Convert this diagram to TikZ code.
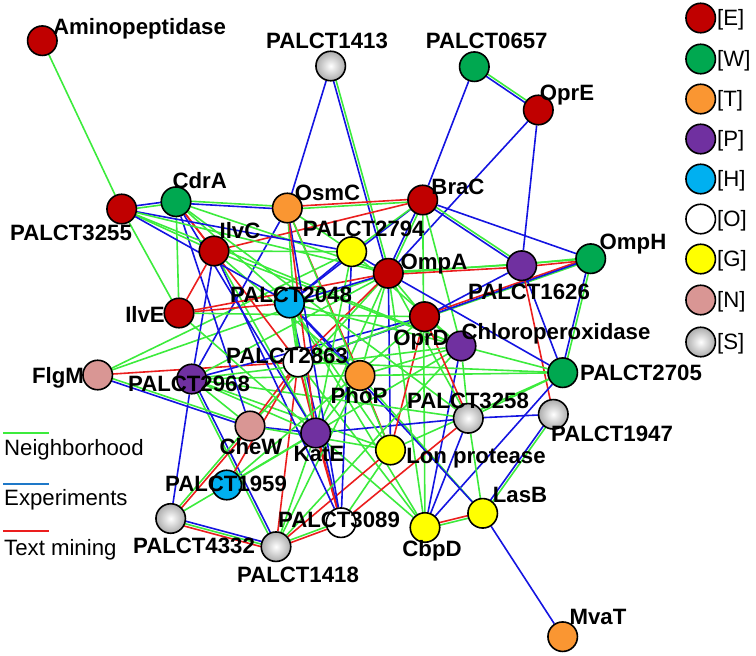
\documentclass[tikz,border=0pt]{standalone}
\usepackage{fontspec}
\setmainfont{Liberation Sans}
\usetikzlibrary{calc}
\pgfdeclarelayer{edgelayer}
\pgfsetlayers{edgelayer,main}
\definecolor{cE}{RGB}{192,0,0}
\definecolor{cW}{RGB}{0,168,80}
\definecolor{cT}{RGB}{250,150,50}
\definecolor{cP}{RGB}{112,48,160}
\definecolor{cH}{RGB}{0,176,240}
\definecolor{cG}{RGB}{255,255,0}
\definecolor{cN}{RGB}{217,150,148}
\definecolor{lG}{RGB}{60,235,60}
\definecolor{lB}{RGB}{20,20,225}
\definecolor{lR}{RGB}{235,30,30}
\definecolor{legB}{RGB}{30,120,200}
\newcommand\edgG[2]{\draw[eg] (#1) -- (#2);}
\newcommand\edgB[2]{\draw[eb] (#1) -- (#2);}
\newcommand\edgR[2]{\draw[er] (#1) -- (#2);}
\newcommand\edgPair[4]{%
  \draw[#1] ($(#3)!1.3pt!90:(#4)$) -- ($(#4)!1.3pt!-90:(#3)$);%
  \draw[#2] ($(#3)!1.3pt!-90:(#4)$) -- ($(#4)!1.3pt!90:(#3)$);}
\tikzset{
  eg/.style={draw=lG,line width=1.6pt},
  eb/.style={draw=lB,line width=1.6pt},
  er/.style={draw=lR,line width=1.6pt},
  nd/.style={circle,draw=black,line width=1.6pt,minimum size=29.5pt,inner sep=0pt},
  nE/.style={nd,fill=cE}, nW/.style={nd,fill=cW}, nT/.style={nd,fill=cT},
  nP/.style={nd,fill=cP}, nH/.style={nd,fill=cH}, nO/.style={nd,fill=white},
  nG/.style={nd,fill=cG}, nN/.style={nd,fill=cN},
  nS/.style={nd,inner color=white,outer color=gray!65},
  lbl/.style={font=\fontsize{22.2}{24}\selectfont\bfseries,inner sep=0pt,anchor=base},
  leg/.style={font=\fontsize{22.2}{24}\selectfont,inner sep=0pt,anchor=base west},
}
\begin{document}
\begin{tikzpicture}[x=1pt,y=-1pt]
\useasboundingbox (0,0) rectangle (756,656);
% nodes
\node[nE] (am) at (42.3,40.7) {};
\node[nS] (p1413) at (330.7,66) {};
\node[nW] (p0657) at (474.3,66.7) {};
\node[nE] (opre) at (538.3,110) {};
\node[nE] (p3255) at (121.7,209) {};
\node[nW] (cdra) at (176,201.7) {};
\node[nT] (osmc) at (287.3,208) {};
\node[nE] (ilvc) at (214,251) {};
\node[nG] (p2794) at (351.7,251.7) {};
\node[nE] (brac) at (422.7,200) {};
\node[nE] (ompa) at (388.3,273.3) {};
\node[nP] (p1626) at (521.7,265.7) {};
\node[nW] (omph) at (590.7,258.7) {};
\node[nE] (ilve) at (179,313) {};
\node[nH] (p2048) at (289.5,303) {};
\node[nE] (oprd) at (424.5,316.7) {};
\node[nP] (chlo) at (461,346) {};
\node[nO] (p2863) at (298,362) {};
\node[nN] (flgm) at (97.7,375) {};
\node[nP] (p2968) at (191.7,379) {};
\node[nT] (phop) at (360,375.5) {};
\node[nW] (p2705) at (562.7,372.7) {};
\node[nS] (p3258) at (468.3,418.3) {};
\node[nS] (p1947) at (553.3,414.3) {};
\node[nN] (chew) at (250,426) {};
\node[nP] (kate) at (315.7,433) {};
\node[nG] (lon) at (390.5,450) {};
\node[nH] (p1959) at (226.7,485) {};
\node[nG] (lasb) at (482.7,513.3) {};
\node[nO] (p3089) at (341,522.7) {};
\node[nG] (cbpd) at (425,527.5) {};
\node[nS] (p4332) at (170.7,518.5) {};
\node[nS] (p1418) at (276,546.7) {};
\node[nT] (mvat) at (562.7,636.7) {};
% edges
\begin{pgfonlayer}{edgelayer}
\edgG{am}{p3255}
\edgB{p1413}{osmc}
\edgPair{eg}{eb}{p1413}{ompa}
\edgB{p0657}{brac}
\edgPair{eg}{eb}{p0657}{opre}
\edgB{opre}{ompa}
\edgB{opre}{p1626}
\edgB{brac}{omph}
\edgPair{eg}{eb}{brac}{p1626}
\edgPair{eg}{er}{brac}{osmc}
\edgPair{eg}{eb}{brac}{ompa}
\edgB{brac}{p2048}
\edgG{brac}{chlo}
\edgG{brac}{cbpd}
\edgG{brac}{p2794}
\edgPair{eg}{er}{ompa}{p1626}
\edgPair{eg}{er}{p1626}{omph}
\edgG{ompa}{omph}
\edgPair{eg}{eb}{omph}{p2705}
\edgPair{eg}{er}{omph}{oprd}
\edgB{omph}{p2863}
\edgB{p1626}{oprd}
\edgB{p1626}{p2705}
\edgR{p1626}{p1947}
\edgB{ompa}{p2705}
\edgG{chlo}{p2705}
\edgG{p2705}{p3258}
\edgG{p2705}{lon}
\edgB{p2705}{cbpd}
\edgPair{eg}{eb}{p1947}{lasb}
\edgB{p1947}{p3258}
\edgB{lasb}{mvat}
\edgPair{eg}{er}{lasb}{cbpd}
\edgB{cbpd}{p3258}
\edgB{cbpd}{chlo}
\edgG{lasb}{p3258}
\edgG{lasb}{phop}
\edgB{lasb}{p2048}
\edgG{cbpd}{kate}
\edgG{cbpd}{p2863}
\edgG{cbpd}{ompa}
\edgG{cbpd}{p2048}
\edgB{p3258}{kate}
\edgB{chew}{kate}
\edgR{p3258}{p3089}
\edgR{lon}{oprd}
\edgR{lon}{phop}
\edgB{lon}{ompa}
\edgG{lon}{p2968}
\edgR{lon}{p1418}
\edgG{lon}{p3089}
\edgB{p3089}{p2048}
\edgR{p3089}{p2863}
\edgR{p3089}{kate}
\edgB{p3089}{p2794}
\edgR{p1418}{p2863}
\edgPair{eg}{er}{p1418}{p3089}
\edgG{p1418}{kate}
\edgPair{eg}{eb}{p1418}{p2968}
\edgPair{eg}{eb}{p1418}{p4332}
\draw[er] ($(p1418)!3.8pt!90:(p4332)$) -- ($(p4332)!3.8pt!-90:(p1418)$);
\edgG{p1418}{chlo}
\edgG{p1418}{phop}
\edgPair{eg}{er}{p4332}{chew}
\edgB{p4332}{p2968}
\edgG{p4332}{kate}
\edgPair{eg}{eb}{flgm}{chew}
\edgR{flgm}{p2863}
\edgG{flgm}{ompa}
\edgG{flgm}{p2794}
\edgB{p2968}{ilvc}
\edgB{p2968}{osmc}
\edgB{p2968}{oprd}
\edgG{p2968}{chew}
\edgG{p2968}{kate}
\edgG{p2968}{p3258}
\edgG{p2968}{phop}
\edgG{p2968}{ompa}
\edgR{chew}{p2863}
\edgG{chew}{ompa}
\edgB{chew}{cdra}
\edgG{chew}{lon}
\edgR{kate}{p2863}
\edgG{kate}{phop}
\edgG{kate}{ompa}
\edgR{p1959}{p2863}
\edgG{p1959}{chlo}
\edgR{p2863}{ompa}
\edgG{p2863}{p2048}
\edgG{p2863}{osmc}
\edgG{p2863}{oprd}
\edgG{p2863}{p2705}
\edgR{phop}{osmc}
\edgG{phop}{ompa}
\edgB{phop}{p2048}
\edgG{phop}{p2705}
\edgR{ilvc}{ilve}
\edgR{ilvc}{brac}
\edgG{ilvc}{p3255}
\edgG{ilvc}{p2794}
\edgG{ilvc}{phop}
\edgG{ilvc}{kate}
\edgG{ilvc}{chlo}
\edgB{ilvc}{p3089}
\edgR{ilve}{ompa}
\edgR{ilve}{p2048}
\edgG{ilve}{p3255}
\edgG{ilve}{cdra}
\edgG{ilve}{oprd}
\edgG{ilve}{kate}
\edgR{cdra}{ilvc}
\edgPair{eg}{eb}{cdra}{osmc}
\edgPair{eg}{eb}{cdra}{p3255}
\edgR{cdra}{p2863}
\edgB{cdra}{kate}
\edgG{cdra}{p2048}
\edgG{cdra}{ompa}
\edgG{cdra}{p3258}
\edgB{p3255}{p2794}
\edgB{p3255}{p2048}
\edgG{p3255}{chlo}
\edgG{p3255}{ompa}
\edgG{osmc}{p2794}
\edgB{osmc}{p3089}
\edgR{osmc}{kate}
\edgG{osmc}{lon}
\edgB{p2794}{ompa}
\edgB{p2794}{p2048}
\edgG{p2794}{kate}
\edgG{p2794}{chlo}
\edgB{p2048}{ompa}
\edgG{p2048}{kate}
\edgG{p2048}{chlo}
\edgG{p2048}{lon}
\edgG{ompa}{oprd}
\edgG{ompa}{p3258}
\edgR{oprd}{p3258}
\edgG{oprd}{chlo}
\edgG{oprd}{p1959}
\edgG{chlo}{p2968}
\edgG{chlo}{phop}
\edgG{chlo}{p3258}
\end{pgfonlayer}
% labels
\node[lbl] (t-am) at (139.5,34.7) {Aminopeptidase};
\node[lbl] (t-p1413) at (327,48.7) {PALCT1413};
\node[lbl] (t-p0657) at (486.7,48.7) {PALCT0657};
\node[lbl] (t-opre) at (567,100.2) {OprE};
\node[lbl] (t-p3255) at (71,240.7) {PALCT3255};
\node[lbl] (t-cdra) at (199.7,188.7) {CdrA};
\node[lbl] (t-osmc) at (327.5,200.7) {OsmC};
\node[lbl] (t-ilvc) at (240,238.7) {IlvC};
\node[lbl] (t-p2794) at (363.7,236.7) {PALCT2794};
\node[lbl] (t-brac) at (458,194.7) {BraC};
\node[lbl] (t-ompa) at (434,269.7) {OmpA};
\node[lbl] (t-p1626) at (529,299.7) {PALCT1626};
\node[lbl] (t-omph) at (633,249.7) {OmpH};
\node[lbl] (t-ilve) at (145,322.7) {IlvE};
\node[lbl] (t-p2048) at (291,302.7) {PALCT2048};
\node[lbl] (t-p2863) at (287,363.7) {PALCT2863};
\node[lbl] (t-flgm) at (58,383.7) {FlgM};
\node[lbl] (t-p2968) at (189,391.7) {PALCT2968};
\node[lbl] (t-phop) at (359,403.7) {PhoP};
\node[lbl] (t-oprd) at (421,345.7) {OprD};
\node[lbl] (t-chlo) at (556,339.7) {Chloroperoxidase};
\node[lbl] (t-p2705) at (641,380.7) {PALCT2705};
\node[lbl] (t-p3258) at (468,408.7) {PALCT3258};
\node[lbl] (t-p1947) at (612,441.7) {PALCT1947};
\node[lbl] (t-chew) at (251,454.7) {CheW};
\node[lbl] (t-kate) at (319,461.7) {KatE};
\node[lbl] (t-lon) at (476,463.7) {Lon protease};
\node[lbl] (t-p1959) at (226,491.7) {PALCT1959};
\node[lbl] (t-lasb) at (520,502.7) {LasB};
\node[lbl] (t-p3089) at (339,527.7) {PALCT3089};
\node[lbl] (t-cbpd) at (432,556.7) {CbpD};
\node[lbl] (t-p4332) at (194,553.7) {PALCT4332};
\node[lbl] (t-p1418) at (298,582.7) {PALCT1418};
\node[lbl] (t-mvat) at (598,624.7) {MvaT};
% legend: node classes
\node[nE] (kE) at (700.7,18) {};  \node[leg] (kEt) at (717,25.7) {[E]};
\node[nW] (kW) at (700.7,59) {};  \node[leg] (kWt) at (717,66.7) {[W]};
\node[nT] (kT) at (700.7,99) {};  \node[leg] (kTt) at (717,106.7) {[T]};
\node[nP] (kP) at (700.7,139) {}; \node[leg] (kPt) at (717,146.7) {[P]};
\node[nH] (kH) at (700.7,179) {}; \node[leg] (kHt) at (717,186.7) {[H]};
\node[nO] (kO) at (700.7,219) {}; \node[leg] (kOt) at (717,226.7) {[O]};
\node[nG] (kG) at (700.7,259) {}; \node[leg] (kGt) at (717,266.7) {[G]};
\node[nN] (kN) at (700.7,300) {}; \node[leg] (kNt) at (717,307.7) {[N]};
\node[nS] (kS) at (700.7,342) {}; \node[leg] (kSt) at (717,349.7) {[S]};
% legend: edge types
\coordinate (lg1) at (3,433); \coordinate (lg2) at (49,433);
\draw[draw=lG,line width=1.8pt] (lg1) -- (lg2);
\node[leg] (lgt) at (4,455) {Neighborhood};
\coordinate (lb1) at (3,484); \coordinate (lb2) at (49,484);
\draw[draw=legB,line width=1.8pt] (lb1) -- (lb2);
\node[leg] (lbt) at (4,505) {Experiments};
\coordinate (lr1) at (3,531); \coordinate (lr2) at (49,531);
\draw[draw=lR,line width=1.8pt] (lr1) -- (lr2);
\node[leg] (lrt) at (4,555) {Text mining};
\end{tikzpicture}
\end{document}
